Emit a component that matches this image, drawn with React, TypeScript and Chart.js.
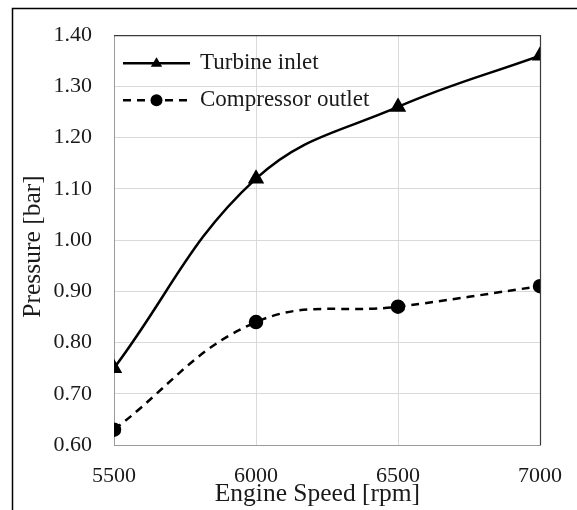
import React, { useEffect, useRef } from "react";
import { Chart, registerables } from "chart.js";

Chart.register(...registerables);

const engineSpeed = [5500, 6000, 6500, 7000];
const turbineInlet = [0.75, 1.12, 1.26, 1.36];
const compressorOutlet = [0.63, 0.84, 0.87, 0.91];
const seriesLabels = ["Turbine inlet", "Compressor outlet"];
const xTitle = "Engine Speed [rpm]";
const yTitle = "Pressure [bar]";

const FONT = "'Liberation Serif', 'Times New Roman', serif";

const framePlugin = {
  id: "framePlugin",
  beforeDraw(chart: any) {
    const { ctx } = chart;
    ctx.save();
    ctx.fillStyle = "#ffffff";
    ctx.fillRect(0, 0, chart.width, chart.height);
    ctx.strokeStyle = "#000000";
    ctx.lineWidth = 1.5;
    ctx.beginPath();
    ctx.moveTo(12.5, chart.height);
    ctx.lineTo(12.5, 8.5);
    ctx.lineTo(chart.width, 8.5);
    ctx.stroke();
    ctx.restore();
  },
  afterDraw(chart: any) {
    const { ctx, chartArea } = chart;
    ctx.save();
    // top and right plot border
    ctx.strokeStyle = "#3a3a3a";
    ctx.lineWidth = 1.2;
    ctx.beginPath();
    ctx.moveTo(chartArea.left, chartArea.top + 0.5);
    ctx.lineTo(chartArea.right + 0.5, chartArea.top + 0.5);
    ctx.lineTo(chartArea.right + 0.5, chartArea.bottom);
    ctx.stroke();

    // custom legend inside the plot area
    const rows = chart.data.datasets;
    const x0 = chartArea.left + 9;
    const x1 = x0 + 67;
    const xm = (x0 + x1) / 2;
    rows.forEach((ds: any, i: number) => {
      const y = chartArea.top + 28 + i * 37;
      ctx.strokeStyle = "#000";
      ctx.lineWidth = 2.5;
      ctx.setLineDash(ds.borderDash || []);
      ctx.beginPath();
      ctx.moveTo(x0, y);
      ctx.lineTo(x1, y);
      ctx.stroke();
      ctx.setLineDash([]);
      ctx.fillStyle = "#000";
      ctx.beginPath();
      if (ds.pointStyle === "triangle") {
        const r = 6;
        ctx.moveTo(xm, y - r);
        ctx.lineTo(xm + r * 0.95, y + r * 0.6);
        ctx.lineTo(xm - r * 0.95, y + r * 0.6);
        ctx.closePath();
      } else {
        ctx.arc(xm, y, 6, 0, Math.PI * 2);
      }
      ctx.fill();
      ctx.fillStyle = "#1a1a1a";
      ctx.font = `23px ${FONT}`;
      ctx.textAlign = "left";
      ctx.textBaseline = "middle";
      ctx.fillText(ds.label, x1 + 10, y);
    });
    ctx.restore();
  },
};

export default function App() {
  const ref = useRef<HTMLCanvasElement | null>(null);

  useEffect(() => {
    if (!ref.current) return;
    const chart = new Chart(ref.current, {
      type: "line",
      data: {
        datasets: [
          {
            label: seriesLabels[0],
            data: engineSpeed.map((x, i) => ({ x, y: turbineInlet[i] })),
            borderColor: "#000",
            backgroundColor: "#000",
            borderWidth: 2.5,
            pointStyle: "triangle",
            pointRadius: 7,
            tension: 0.4,
          },
          {
            label: seriesLabels[1],
            data: engineSpeed.map((x, i) => ({ x, y: compressorOutlet[i] })),
            borderColor: "#000",
            backgroundColor: "#000",
            borderWidth: 2.5,
            borderDash: [8, 6],
            pointStyle: "circle",
            pointRadius: 6,
            tension: 0.4,
          },
        ],
      },
      options: {
        responsive: false,
        animation: false,
        layout: { padding: { top: 33, right: 37, left: 0, bottom: 0 } },
        plugins: { legend: { display: false }, tooltip: { enabled: false } },
        scales: {
          x: {
            type: "linear",
            min: 5500,
            max: 7000,
            afterFit: (s: any) => {
              s.height = 65;
              s.paddingRight = 0;
              s.paddingLeft = 0;
            },
            ticks: {
              stepSize: 500,
              padding: 18,
              color: "#1a1a1a",
              font: { family: FONT, size: 22 },
              callback: (v: any) => String(v),
            },
            grid: { color: "#d9d9d9", lineWidth: 1, drawTicks: false },
            border: { color: "#9a9a9a", width: 1 },
            title: {
              display: true,
              text: xTitle + "   ",
              color: "#1a1a1a",
              font: { family: FONT, size: 25.5 },
              padding: { top: 0, bottom: 0 },
            },
          },
          y: {
            min: 0.6,
            max: 1.4,
            afterFit: (s: any) => {
              s.width = 114;
            },
            ticks: {
              stepSize: 0.1,
              padding: 22,
              color: "#1a1a1a",
              font: { family: FONT, size: 22 },
              callback: (v: any) => Number(v).toFixed(2),
            },
            grid: { color: "#d9d9d9", lineWidth: 1, drawTicks: false },
            border: { color: "#9a9a9a", width: 1 },
            title: {
              display: true,
              text: yTitle + "  ",
              color: "#1a1a1a",
              font: { family: FONT, size: 25.5 },
              padding: { top: 18, bottom: 0 },
            },
          },
        },
      },
      plugins: [framePlugin],
    } as any);
    return () => chart.destroy();
  }, []);

  return (
    <div style={{ position: "fixed", left: 0, top: 0, width: 577, height: 510, background: "#fff" }}>
      <canvas ref={ref} width={577} height={510} style={{ display: "block", width: 577, height: 510 }} />
    </div>
  );
}
